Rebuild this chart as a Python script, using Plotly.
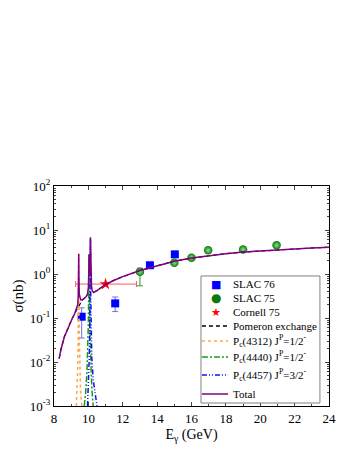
import plotly.graph_objects as go

# ---------------- data ----------------
slac76_x = [9.61, 11.56, 13.58, 15.03]
slac76_y = [0.107, 0.215, 1.58, 2.8]
slac76_up = [0.17, 0.30, 1.70, 2.95]
slac76_lo = [0.035, 0.14, 1.48, 2.65]

slac75_x = [13.0, 15.0, 16.0, 16.97, 19.0, 20.95]
slac75_y = [1.12, 1.8, 2.35, 3.45, 3.6, 4.5]
slac75_up = [1.35, 1.9, 2.45, 3.6, 3.75, 4.7]
slac75_lo = [0.54, 1.7, 2.25, 3.3, 3.45, 4.3]

cornell_x = [11.0]
cornell_y = [0.59]
cornell_xlo = [9.26]
cornell_xhi = [12.8]

pom_x = [8.3, 8.4, 8.6, 8.8, 9.0, 9.2, 9.4, 9.6, 9.8, 10.0, 10.2, 10.5, 11.0, 11.5,
         12.0, 13.0, 14.0, 15.0, 16.0, 17.0, 18.0, 19.0, 20.0, 21.0, 22.0, 23.0, 24.0]
pom_y = [0.012, 0.019, 0.037, 0.058, 0.088, 0.125, 0.18, 0.24, 0.29, 0.33, 0.37, 0.42,
         0.58, 0.72, 0.87, 1.2, 1.55, 1.95, 2.3, 2.6, 2.9, 3.15, 3.35, 3.55, 3.75, 3.9, 4.05]

pc4312_x = [9.30, 9.34, 9.38, 9.41, 9.43, 9.44, 9.45, 9.47, 9.50, 9.54, 9.58, 9.62]
pc4312_y = [0.001, 0.0025, 0.008, 0.04, 0.3, 2.8, 0.3, 0.04, 0.008, 0.0025, 0.0015, 0.001]

pc4440_x = [9.76, 9.84, 9.92, 9.97, 10.0, 10.02, 10.04, 10.06, 10.08, 10.11, 10.16, 10.22, 10.28]
pc4440_y = [0.001, 0.002, 0.006, 0.02, 0.08, 0.4, 2.8, 0.4, 0.08, 0.02, 0.006, 0.002, 0.001]

pc4457_x = [9.95, 10.0, 10.05, 10.08, 10.10, 10.11, 10.12, 10.13, 10.14, 10.16, 10.2, 10.28, 10.38, 10.5]
pc4457_y = [0.001, 0.003, 0.012, 0.05, 0.3, 2.0, 6.5, 2.0, 0.3, 0.05, 0.012, 0.004, 0.002, 0.001]

tot_x = [8.3, 8.4, 8.6, 8.8, 9.0, 9.1, 9.2, 9.3, 9.38, 9.41, 9.43, 9.44, 9.45, 9.47, 9.5,
         9.55, 9.65, 9.75, 9.85, 9.95, 10.0, 10.02, 10.04, 10.06, 10.08, 10.1, 10.11, 10.12,
         10.13, 10.15, 10.18, 10.22, 10.3, 10.5, 11.0, 11.5, 12.0, 13.0, 14.0, 15.0, 16.0,
         17.0, 18.0, 19.0, 20.0, 21.0, 22.0, 23.0, 24.0]
tot_y = [0.012, 0.019, 0.037, 0.058, 0.088, 0.105, 0.125, 0.155, 0.2, 0.3, 0.9, 2.9, 0.9, 0.35,
         0.28, 0.26, 0.26, 0.28, 0.3, 0.35, 0.5, 1.0, 2.8, 1.2, 1.0, 1.5, 3.0, 6.8, 3.0, 1.0,
         0.55, 0.42, 0.38, 0.42, 0.58, 0.72, 0.87, 1.2, 1.55, 1.95, 2.3, 2.6, 2.9, 3.15, 3.35,
         3.55, 3.75, 3.9, 4.05]

xticks = [8, 10, 12, 14, 16, 18, 20, 22, 24]
yticks = [1e-3, 1e-2, 1e-1, 1, 10, 100]
yticktext = ["10<sup>-3</sup>", "10<sup>-2</sup>", "10<sup>-1</sup>", "10<sup>0</sup>",
             "10<sup>1</sup>", "10<sup>2</sup>"]

legend_names = ["SLAC 76", "SLAC 75", "Cornell 75", "Pomeron exchange",
                "P<sub>c</sub>(4312) J<sup>P</sup>=1/2<sup>-</sup>",
                "P<sub>c</sub>(4440) J<sup>P</sup>=1/2<sup>-</sup>",
                "P<sub>c</sub>(4457) J<sup>P</sup>=3/2<sup>-</sup>",
                "Total"]

# ---------------- styles ----------------
SERIF = "Liberation Serif"
C76, C75, CCOR = "#0000ff", "#0a7a0a", "#ff0000"
CPOM, C4312, C4440, C4457, CTOT = "black", "#ffa64d", "#1a9a1a", "#1010ff", "#800080"
D_POM, D_4312, D_4440, D_4457 = "4px,3px", "dot", "6px,2px,2px,2px", "5px,2px,1px,2px,1px,2px"

fig = go.Figure()

fig.add_trace(go.Scatter(
    x=slac76_x, y=slac76_y, mode="markers", name=legend_names[0],
    marker=dict(symbol="square", size=8, color=C76),
    error_y=dict(type="data", symmetric=False,
                 array=[u - v for u, v in zip(slac76_up, slac76_y)],
                 arrayminus=[v - l for v, l in zip(slac76_y, slac76_lo)],
                 color="#6f6fe8", thickness=1, width=3)))

fig.add_trace(go.Scatter(
    x=slac75_x, y=slac75_y, mode="markers", name=legend_names[1],
    marker=dict(symbol="circle", size=8.5, color=C75,
                gradient=dict(type="radial", color="#8fe08f"),
                line=dict(width=0)),
    error_y=dict(type="data", symmetric=False,
                 array=[u - v for u, v in zip(slac75_up, slac75_y)],
                 arrayminus=[v - l for v, l in zip(slac75_y, slac75_lo)],
                 color="#2a9a2a", thickness=1, width=3)))

fig.add_trace(go.Scatter(
    x=cornell_x, y=cornell_y, mode="markers", name=legend_names[2],
    marker=dict(symbol="star", size=9, color=CCOR),
    error_x=dict(type="data", symmetric=False,
                 array=[h - v for h, v in zip(cornell_xhi, cornell_x)],
                 arrayminus=[v - l for v, l in zip(cornell_x, cornell_xlo)],
                 color="#ff5a5a", thickness=1, width=3)))

fig.add_trace(go.Scatter(x=pom_x, y=pom_y, mode="lines", name=legend_names[3],
                         line=dict(color=CPOM, width=1.2, dash=D_POM)))
fig.add_trace(go.Scatter(x=pc4312_x, y=pc4312_y, mode="lines", name=legend_names[4],
                         line=dict(color=C4312, width=1.5, dash=D_4312)))
fig.add_trace(go.Scatter(x=pc4440_x, y=pc4440_y, mode="lines", name=legend_names[5],
                         line=dict(color=C4440, width=1.5, dash=D_4440)))
fig.add_trace(go.Scatter(x=pc4457_x, y=pc4457_y, mode="lines", name=legend_names[6],
                         line=dict(color=C4457, width=1.5, dash=D_4457)))
fig.add_trace(go.Scatter(x=tot_x, y=tot_y, mode="lines", name=legend_names[7],
                         line=dict(color=CTOT, width=1.5)))

# ---------------- compact legend box (paper coordinates) ----------------
L_X0, L_X1, L_Y0, L_Y1 = 0.5345, 0.967, 0.0136, 0.591
row_y = [0.5545, 0.491, 0.427, 0.364, 0.2955, 0.2227, 0.1409, 0.0545]
SAMPLE_X0, SAMPLE_X1, SYM_X, TEXT_X = 0.538, 0.633, 0.588, 0.6436

shapes = [dict(type="rect", xref="paper", yref="paper", x0=L_X0, x1=L_X1, y0=L_Y0, y1=L_Y1,
               line=dict(color="#808080", width=1), fillcolor="white", layer="above")]
line_styles = {3: (CPOM, D_POM), 4: (C4312, D_4312), 5: (C4440, D_4440),
               6: (C4457, D_4457), 7: (CTOT, "solid")}
for i, (col, dash) in line_styles.items():
    shapes.append(dict(type="line", xref="paper", yref="paper",
                       x0=SAMPLE_X0, x1=SAMPLE_X1, y0=row_y[i], y1=row_y[i],
                       line=dict(color=col, width=1.5, dash=dash), layer="above"))

annotations = []
for i, name in enumerate(legend_names):
    annotations.append(dict(xref="paper", yref="paper", x=TEXT_X, y=row_y[i], text=name,
                            showarrow=False, xanchor="left", yanchor="middle",
                            font=dict(family=SERIF, size=11, color="black")))
sym = [("■", C76, 11), ("●", C75, 12), ("★", CCOR, 11)]
for i, (ch, col, sz) in enumerate(sym):
    annotations.append(dict(xref="paper", yref="paper", x=SYM_X, y=row_y[i], text=ch,
                            showarrow=False, xanchor="center", yanchor="middle",
                            font=dict(family="DejaVu Sans", size=sz, color=col)))

fig.update_layout(
    width=349, height=451,
    margin=dict(l=46, r=28, t=178, b=53),
    paper_bgcolor="white", plot_bgcolor="white",
    font=dict(family=SERIF, size=13, color="black"),
    showlegend=False,
    shapes=shapes, annotations=annotations,
    xaxis=dict(range=[8, 24], tickvals=xticks, ticks="inside", ticklen=4,
               showline=True, linecolor="black", linewidth=1, mirror="allticks",
               showgrid=False, zeroline=False, automargin=False,
               minor=dict(dtick=1, tick0=8, ticks="inside", ticklen=2, showgrid=False),
               title=dict(text="E<sub>γ</sub> (GeV)", font=dict(family=SERIF, size=14), standoff=4),
               tickfont=dict(family=SERIF, size=13)),
    yaxis=dict(type="log", range=[-3, 2], tickvals=yticks, ticktext=yticktext,
               ticks="inside", ticklen=4,
               showline=True, linecolor="black", linewidth=1, mirror="allticks",
               showgrid=False, zeroline=False, automargin=False,
               minor=dict(ticks="inside", ticklen=2, dtick="D1", showgrid=False),
               title=dict(text="σ(nb)", font=dict(family=SERIF, size=15), standoff=2),
               tickfont=dict(family=SERIF, size=13)),
)

fig.write_html("out.html")
